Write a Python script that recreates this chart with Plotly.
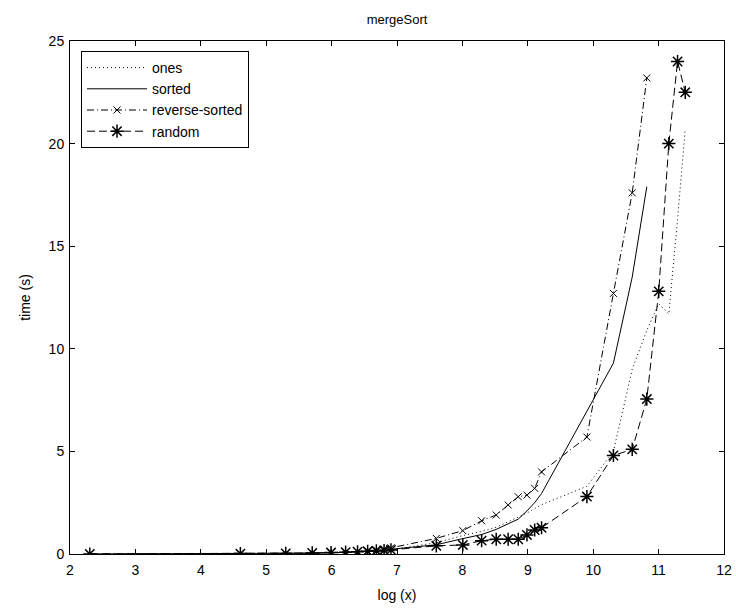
import numpy as np
import plotly.graph_objects as go

# problem sizes (x axis shows natural log of size)
sizes_all = [10, 100, 200, 300, 400, 500, 600, 700, 800, 900, 1000,
             2000, 3000, 4000, 5000, 6000, 7000, 8000, 9000, 10000,
             20000, 30000, 40000, 50000, 60000, 70000, 80000, 90000]
sizes_short = sizes_all[:24]

ones_t = [0, 0.01, 0.02, 0.03, 0.05, 0.07, 0.09, 0.11, 0.13, 0.16, 0.2,
          0.55, 0.9, 1.1, 1.3, 1.55, 1.8, 2.0, 2.2, 2.4,
          3.3, 5.0, 9.0, 10.9, 12.2, 11.7, 16.3, 20.7]
sorted_t = [0, 0.01, 0.02, 0.04, 0.06, 0.08, 0.1, 0.13, 0.16, 0.2, 0.25,
            0.45, 0.75, 0.95, 1.2, 1.45, 1.7, 2.1, 2.5, 2.95,
            7.0, 9.3, 13.5, 17.9]
reverse_t = [0, 0.01, 0.02, 0.04, 0.06, 0.09, 0.12, 0.16, 0.2, 0.25, 0.3,
             0.76, 1.14, 1.62, 1.9, 2.39, 2.79, 2.87, 3.2, 4.0,
             5.7, 12.7, 17.6, 23.2]
random_t = [0, 0.02, 0.03, 0.05, 0.07, 0.09, 0.11, 0.13, 0.15, 0.17, 0.2,
            0.4, 0.44, 0.65, 0.72, 0.72, 0.72, 0.93, 1.17, 1.28,
            2.8, 4.8, 5.1, 7.55, 12.8, 20.0, 24.0, 22.5]

x_all = np.log(sizes_all)
x_short = np.log(sizes_short)

FONT = "Liberation Sans, Arial, sans-serif"

fig = go.Figure()
fig.add_trace(go.Scatter(x=x_all, y=ones_t, name="ones", mode="lines",
                         line=dict(color="black", width=1, dash="1px,3px")))
fig.add_trace(go.Scatter(x=x_short, y=sorted_t, name="sorted", mode="lines",
                         line=dict(color="black", width=1)))
fig.add_trace(go.Scatter(x=x_short, y=reverse_t, name="reverse-sorted", mode="lines+markers",
                         line=dict(color="black", width=1, dash="7px,3px,1px,3px"),
                         marker=dict(symbol="x-thin-open", size=7,
                                     line=dict(color="black", width=1), color="black")))
fig.add_trace(go.Scatter(x=x_all, y=random_t, name="random", mode="lines+markers",
                         line=dict(color="black", width=1, dash="8px,4px"),
                         marker=dict(symbol="asterisk-open", size=11,
                                     line=dict(color="black", width=1.5), color="black")))

axis_common = dict(showgrid=False, zeroline=False, showline=True, linecolor="black",
                   linewidth=1, mirror="ticks", ticks="inside", ticklen=5, automargin=False,
                   tickcolor="black", tickfont=dict(family=FONT, size=14, color="black"))

fig.update_layout(
    width=736, height=610,
    margin=dict(l=70, r=12, t=41, b=56),
    paper_bgcolor="white", plot_bgcolor="white",
    title=dict(text="mergeSort", x=(70 + 724) / 2 / 736, xanchor="center",
               y=1 - 19 / 610, yanchor="middle",
               font=dict(family=FONT, size=13, color="black")),
    xaxis=dict(range=[2, 12], dtick=1, ticklabelstandoff=3,
               title=dict(text="log (x)", standoff=13,
                          font=dict(family=FONT, size=14, color="black")), **axis_common),
    yaxis=dict(range=[0, 25], dtick=5, ticklabelstandoff=2,
               title=dict(text="time (s)", standoff=14,
                          font=dict(family=FONT, size=14, color="black")), **axis_common),
    legend=dict(x=11 / 654, y=1 - 10 / 513, xanchor="left", yanchor="top",
                bgcolor="white", bordercolor="black", borderwidth=1,
                font=dict(family=FONT, size=14, color="black"),
                itemwidth=60, tracegroupgap=0),
    showlegend=True,
)

fig.write_html("out.html")
